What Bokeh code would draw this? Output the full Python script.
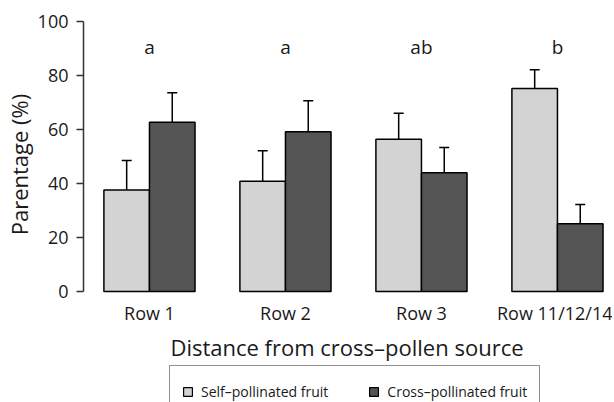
from bokeh.plotting import figure
from bokeh.layouts import column
from bokeh.models import (ColumnDataSource, Whisker, TeeHead, Legend, LegendItem,
                          FixedTicker, Range1d)
from bokeh.core.properties import value
from bokeh.embed import file_html
from bokeh.resources import INLINE

categories = ["Row 1", "Row 2", "Row 3", "Row 11/12/14"]
self_vals = [37.6, 40.8, 56.4, 75.2]
self_err = [10.9, 11.3, 9.6, 6.9]
cross_vals = [62.7, 59.2, 44.0, 25.1]
cross_err = [10.9, 11.4, 9.3, 7.1]
letters = ["a", "a", "ab", "b"]
y_ticks = [0, 20, 40, 60, 80, 100]
series_names = ["Self\u2013pollinated fruit", "Cross\u2013pollinated fruit"]

FONT = "Open Sans"
TXT = "#1a1a1a"
BW = 0.335
SELF_C = "#d3d3d3"
CROSS_C = "#555555"

idx = list(range(len(categories)))
src_self = ColumnDataSource(dict(x=[i - BW / 2 for i in idx], top=self_vals,
                                 up=[v + e for v, e in zip(self_vals, self_err)]))
src_cross = ColumnDataSource(dict(x=[i + BW / 2 for i in idx], top=cross_vals,
                                  up=[v + e for v, e in zip(cross_vals, cross_err)]))
src_let = ColumnDataSource(dict(x=idx, y=[90.5] * len(idx), t=letters))

p = figure(frame_width=527, frame_height=304, output_backend="svg", toolbar_location=None,
           x_range=Range1d(-0.485, 3.39), y_range=Range1d(-9.26, 103.33),
           min_border_top=12, min_border_right=2, min_border_left=0, min_border_bottom=0)
p.outline_line_color = None
p.grid.grid_line_color = None
p.background_fill_color = "white"
p.border_fill_color = "white"

p.vbar(x="x", top="top", bottom=0, width=BW, source=src_self,
       fill_color=SELF_C, line_color="black", line_width=1.5)
p.vbar(x="x", top="top", bottom=0, width=BW, source=src_cross,
       fill_color=CROSS_C, line_color="black", line_width=1.5)

for s in (src_self, src_cross):
    w = Whisker(source=s, base="x", upper="up", lower="top", dimension="height",
                line_color="black", line_width=1.5,
                upper_head=TeeHead(size=10, line_color="black", line_width=1.5),
                lower_head=None)
    p.add_layout(w)

p.text(x="x", y="y", text="t", source=src_let, text_align="center",
       text_baseline="middle", text_font=value(FONT), text_font_size="19px",
       text_color=TXT)

# y axis
ya = p.yaxis[0]
ya.ticker = FixedTicker(ticks=y_ticks)
ya.bounds = (0, 100)
ya.axis_line_width = 1.5
ya.axis_line_color = "#333333"
ya.major_tick_line_width = 1.5
ya.major_tick_line_color = "#333333"
ya.major_tick_out = 7
ya.major_tick_in = 0
ya.minor_tick_line_color = None
ya.major_label_standoff = 8
ya.major_label_text_font = FONT
ya.major_label_text_font_size = "18px"
ya.major_label_text_color = TXT
ya.axis_label = "Parentage (%)"
ya.axis_label_text_font = FONT
ya.axis_label_text_font_size = "22px"
ya.axis_label_text_font_style = "normal"
ya.axis_label_text_color = TXT
ya.axis_label_standoff = 1

# x axis
xa = p.xaxis[0]
xa.ticker = FixedTicker(ticks=idx)
xa.major_label_overrides = {i: c for i, c in zip(idx, categories)}
xa.axis_line_color = None
xa.major_tick_line_color = None
xa.minor_tick_line_color = None
xa.major_tick_out = 0
xa.major_tick_in = 0
xa.major_label_standoff = -16
xa.major_label_text_font = FONT
xa.major_label_text_font_size = "18px"
xa.major_label_text_color = TXT
xa.axis_label = "Distance from cross\u2013pollen source"
xa.axis_label_text_font = FONT
xa.axis_label_text_font_size = "22px"
xa.axis_label_text_font_style = "normal"
xa.axis_label_text_color = TXT
xa.axis_label_standoff = 4

# legend strip below the chart (its renderers sit outside its visible range)
LH = 38
q = figure(width=604, height=LH, output_backend="svg", toolbar_location=None,
           x_axis_location=None, y_axis_location=None,
           x_range=Range1d(-0.485, 3.39), y_range=Range1d(1000, 1001),
           min_border=0)
q.outline_line_color = None
q.grid.grid_line_color = None
q.border_fill_color = "white"
r1 = q.vbar(x="x", top="top", bottom=0, width=BW, source=src_self,
            fill_color=SELF_C, line_color="black", line_width=1.2)
r2 = q.vbar(x="x", top="top", bottom=0, width=BW, source=src_cross,
            fill_color=CROSS_C, line_color="black", line_width=1.2)
legend = Legend(items=[LegendItem(label=series_names[0], renderers=[r1]),
                       LegendItem(label=series_names[1], renderers=[r2])],
                orientation="horizontal", location=(86, LH - 3 - 50),
                border_line_color="#222222", border_line_width=1.5,
                label_text_font=FONT, label_text_font_size="14px", label_text_color=TXT,
                glyph_width=11, glyph_height=11, label_height=26, label_standoff=8,
                spacing=40, padding=12, margin=0, background_fill_alpha=0)
q.add_layout(legend)

layout = column(p, q, spacing=0)
open("out.html", "w").write(file_html(layout, INLINE))
